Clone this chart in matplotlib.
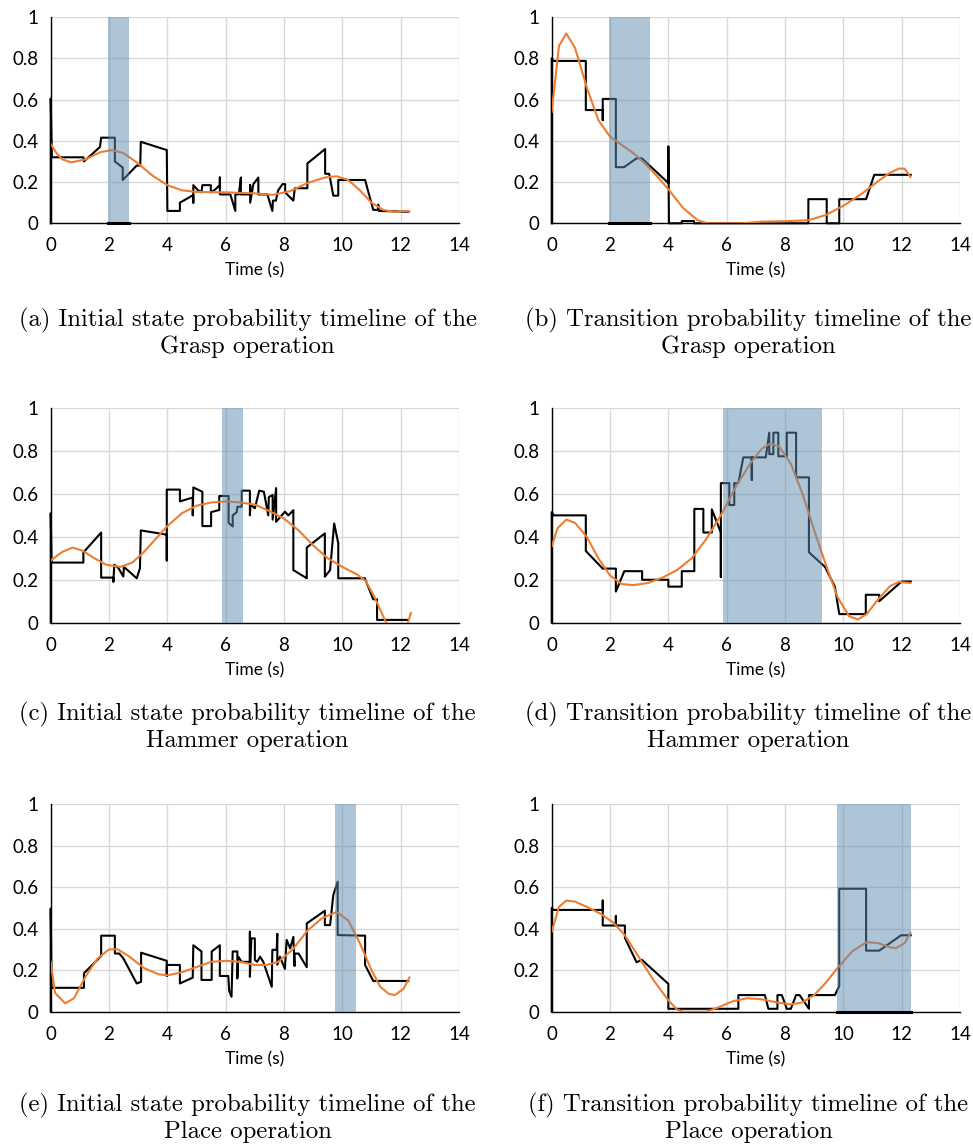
import matplotlib
matplotlib.use("Agg")
import matplotlib.pyplot as plt

# ---------------- data (time s, probability) ----------------
a_obs = [(0,0),(0,0.605),(0.04,0.32),(1.12,0.32),(1.14,0.30),(1.69,0.37),(1.73,0.415),(2.2,0.415),(2.2,0.30),
         (2.47,0.27),(2.47,0.21),(2.95,0.28),(3.07,0.28),(3.09,0.395),(3.98,0.355),(4.0,0.06),(4.43,0.06),
         (4.43,0.10),(4.89,0.137),(4.89,0.10),(4.89,0.185),(5.05,0.16),(5.17,0.15),(5.2,0.185),(5.49,0.185),
         (5.49,0.15),(5.65,0.165),(5.80,0.185),(5.80,0.222),(5.80,0.14),(6.16,0.14),(6.33,0.06),(6.33,0.14),
         (6.45,0.14),(6.52,0.222),(6.52,0.14),(6.84,0.14),(6.84,0.185),(6.84,0.10),(6.95,0.19),(7.12,0.222),
         (7.12,0.14),(7.43,0.14),(7.60,0.06),(7.62,0.11),(7.72,0.11),(7.8,0.16),(7.95,0.19),(8.04,0.19),
         (8.04,0.15),(8.32,0.11),(8.37,0.17),(8.80,0.17),(8.80,0.29),(9.41,0.36),(9.41,0.24),(9.55,0.24),
         (9.69,0.134),(9.86,0.134),(9.86,0.21),(10.78,0.21),(11.06,0.065),(11.23,0.065),(11.23,0.09),
         (11.25,0.06),(12.26,0.056)]
a_fit = [(0,0.385),(0.2,0.34),(0.4,0.31),(0.7,0.295),(1.2,0.31),(1.7,0.345),(2.1,0.355),(2.5,0.34),(3.0,0.29),
         (3.5,0.23),(4.0,0.185),(4.5,0.16),(5,0.152),(6,0.15),(7,0.145),(7.6,0.138),(8.2,0.155),(8.8,0.195),
         (9.4,0.222),(9.8,0.228),(10.2,0.21),(10.6,0.16),(11.0,0.1),(11.4,0.065),(11.8,0.055),(12.1,0.06),(12.3,0.058)]
a_span = (1.98, 2.69)

b_obs = [(0,0),(0,0.80),(0.06,0.787),(1.17,0.787),(1.17,0.549),(1.75,0.549),(1.75,0.50),(1.75,0.603),(2.2,0.603),
         (2.2,0.272),(2.48,0.272),(2.91,0.315),(3.09,0.315),(4.0,0.195),(4.0,0.373),(4.02,0.0),(4.46,0.0),
         (4.46,0.011),(4.88,0.011),(4.88,0.0),(8.8,0.0),(8.8,0.117),(9.43,0.117),(9.43,0.0),(9.86,0.0),
         (9.86,0.117),(10.78,0.117),(11.06,0.235),(12.31,0.235)]
b_fit = [(0,0.54),(0.25,0.86),(0.5,0.92),(0.8,0.85),(1.2,0.66),(1.6,0.50),(2.0,0.42),(2.4,0.38),(2.8,0.34),
         (3.2,0.29),(3.6,0.23),(4.0,0.165),(4.5,0.075),(5.0,0.015),(5.35,0.0),(6.5,0.0),(7.2,0.008),(8.0,0.01),
         (8.8,0.015),(9.4,0.04),(10.0,0.085),(10.6,0.14),(11.2,0.205),(11.6,0.245),(11.9,0.265),(12.1,0.265),(12.3,0.225)]
b_span = (1.98, 3.37)

c_obs = [(0,0),(0,0.51),(0.03,0.28),(1.12,0.28),(1.12,0.327),(1.73,0.42),(1.73,0.21),(2.15,0.21),(2.15,0.19),
         (2.18,0.27),(2.32,0.255),(2.49,0.215),(2.51,0.26),(2.95,0.207),(3.06,0.253),(3.09,0.43),(3.98,0.41),
         (3.98,0.29),(3.98,0.62),(4.43,0.62),(4.43,0.565),(4.87,0.583),(4.87,0.5),(4.89,0.63),(5.2,0.61),
         (5.2,0.45),(5.5,0.45),(5.5,0.515),(5.78,0.525),(5.78,0.59),(6.1,0.59),(6.1,0.465),(6.24,0.448),
         (6.24,0.50),(6.38,0.515),(6.4,0.54),(6.55,0.54),(6.55,0.615),(6.83,0.615),(6.83,0.50),(6.85,0.55),
         (7.0,0.533),(7.15,0.615),(7.31,0.61),(7.46,0.5),(7.48,0.585),(7.61,0.595),(7.61,0.48),(7.73,0.627),
         (7.73,0.47),(8.03,0.517),(8.15,0.50),(8.32,0.524),(8.32,0.245),(8.78,0.207),(8.78,0.35),(9.40,0.416),
         (9.40,0.214),(9.58,0.245),(9.72,0.462),(9.86,0.37),(9.86,0.207),(10.77,0.207),(11.06,0.109),
         (11.19,0.109),(11.19,0.013),(12.26,0.013)]
c_fit = [(0,0.29),(0.4,0.33),(0.75,0.35),(1.1,0.335),(1.5,0.30),(1.9,0.27),(2.4,0.26),(2.8,0.28),(3.2,0.33),
         (3.6,0.39),(4.0,0.45),(4.5,0.51),(5.0,0.545),(5.5,0.56),(6.0,0.565),(6.5,0.56),(7.0,0.55),(7.5,0.52),
         (8.0,0.485),(8.5,0.43),(9.0,0.36),(9.5,0.30),(10.0,0.26),(10.5,0.225),(10.8,0.195),(11.1,0.12),
         (11.5,0.0),(11.9,-0.06),(12.1,-0.05),(12.25,0.0),(12.35,0.045)]
c_span = (5.89, 6.58)

d_obs = [(0,0),(0,0.515),(0.06,0.50),(1.17,0.50),(1.17,0.334),(1.75,0.252),(2.2,0.252),(2.2,0.145),(2.49,0.24),
         (3.1,0.24),(3.1,0.2),(4.0,0.2),(4.0,0.168),(4.46,0.168),(4.46,0.24),(4.89,0.24),(4.89,0.53),(5.2,0.53),
         (5.2,0.42),(5.49,0.42),(5.49,0.528),(5.8,0.42),(5.8,0.213),(5.8,0.65),(6.09,0.65),(6.09,0.548),
         (6.26,0.548),(6.26,0.65),(6.4,0.65),(6.57,0.77),(6.86,0.77),(6.86,0.665),(6.86,0.77),(7.34,0.77),
         (7.46,0.885),(7.46,0.785),(7.6,0.785),(7.6,0.885),(7.77,0.885),(7.77,0.775),(8.06,0.775),(8.06,0.885),
         (8.38,0.885),(8.38,0.677),(8.82,0.677),(8.82,0.328),(9.37,0.26),(9.71,0.168),(9.86,0.04),(10.77,0.04),
         (10.77,0.13),(11.23,0.13),(11.23,0.1),(12.0,0.192),(12.31,0.192)]
d_fit = [(0,0.355),(0.2,0.44),(0.5,0.48),(0.8,0.465),(1.2,0.40),(1.6,0.30),(2.0,0.22),(2.4,0.18),(2.8,0.175),
         (3.3,0.185),(3.8,0.21),(4.3,0.245),(4.8,0.30),(5.3,0.39),(5.8,0.50),(6.3,0.63),(6.8,0.74),(7.2,0.81),
         (7.5,0.835),(7.8,0.82),(8.2,0.74),(8.6,0.60),(9.0,0.43),(9.4,0.27),(9.8,0.12),(10.2,0.03),(10.5,0.015),
         (10.8,0.04),(11.2,0.11),(11.6,0.17),(11.9,0.19),(12.3,0.185)]
d_span = (5.89, 9.26)

e_obs = [(0,0),(0,0.497),(0.03,0.115),(1.14,0.115),(1.14,0.185),(1.73,0.268),(1.73,0.366),(2.2,0.366),(2.2,0.28),
         (2.35,0.28),(2.49,0.257),(2.95,0.136),(3.1,0.144),(3.1,0.284),(3.98,0.245),(3.98,0.172),(3.98,0.225),
         (4.43,0.225),(4.43,0.136),(4.87,0.164),(4.89,0.32),(5.17,0.29),(5.17,0.153),(5.52,0.153),(5.52,0.29),
         (5.80,0.32),(5.80,0.172),(6.09,0.172),(6.12,0.10),(6.2,0.072),(6.24,0.29),(6.4,0.29),(6.4,0.16),
         (6.43,0.265),(6.55,0.24),(6.83,0.24),(6.83,0.385),(6.83,0.168),(6.88,0.353),(7.0,0.353),(7.0,0.25),
         (7.08,0.24),(7.18,0.265),(7.29,0.24),(7.58,0.12),(7.60,0.298),(7.75,0.298),(7.77,0.375),(7.77,0.226),
         (7.86,0.265),(8.03,0.206),(8.09,0.346),(8.21,0.305),(8.32,0.36),(8.36,0.22),(8.36,0.28),(8.5,0.28),
         (8.78,0.214),(8.78,0.425),(9.40,0.486),(9.40,0.417),(9.58,0.417),(9.69,0.562),(9.84,0.626),
         (9.84,0.369),(10.78,0.366),(10.78,0.225),(11.06,0.148),(12.26,0.148)]
e_fit = [(0,0.24),(0.15,0.09),(0.5,0.04),(0.8,0.065),(1.2,0.17),(1.6,0.255),(2.0,0.30),(2.3,0.30),(2.7,0.265),
         (3.2,0.21),(3.7,0.18),(4.0,0.175),(4.5,0.19),(5.0,0.215),(5.5,0.24),(6.0,0.245),(6.5,0.24),(7.0,0.225),
         (7.4,0.225),(7.8,0.24),(8.3,0.30),(8.8,0.39),(9.3,0.45),(9.8,0.48),(10.2,0.44),(10.6,0.33),(11.0,0.20),
         (11.3,0.12),(11.6,0.085),(11.8,0.08),(12.1,0.11),(12.3,0.165)]
e_span = (9.75, 10.46)

f_obs = [(0,0),(0,0.50),(0.06,0.49),(1.75,0.49),(1.75,0.535),(1.75,0.415),(2.2,0.415),(2.2,0.46),(2.2,0.415),
         (2.51,0.415),(2.51,0.355),(2.91,0.238),(3.09,0.25),(4.0,0.134),(4.0,0.014),(6.4,0.014),(6.4,0.08),
         (7.31,0.08),(7.43,0.014),(7.74,0.014),(7.74,0.08),(7.89,0.08),(8.06,0.014),(8.2,0.014),(8.38,0.08),
         (8.5,0.08),(8.82,0.014),(8.82,0.08),(9.71,0.08),(9.86,0.123),(9.86,0.592),(10.78,0.592),(10.78,0.294),
         (11.23,0.294),(11.98,0.368),(12.31,0.368)]
f_fit = [(0,0.385),(0.25,0.505),(0.5,0.535),(0.8,0.53),(1.2,0.505),(1.7,0.47),(2.1,0.43),(2.5,0.37),(3.0,0.26),
         (3.5,0.15),(4.0,0.055),(4.3,0.01),(4.5,0.0),(5.3,0.0),(5.7,0.02),(6.2,0.05),(6.7,0.065),(7.2,0.06),
         (7.7,0.045),(8.2,0.035),(8.6,0.045),(9.0,0.08),(9.4,0.14),(9.8,0.21),(10.3,0.29),(10.8,0.335),
         (11.2,0.33),(11.6,0.31),(11.8,0.305),(12.1,0.33),(12.3,0.38)]
f_span = (9.77, 12.31)

captions = [
    ("(a) Initial state probability timeline of the", "Grasp operation"),
    ("(b) Transition probability timeline of the", "Grasp operation"),
    ("(c) Initial state probability timeline of the", "Hammer operation"),
    ("(d) Transition probability timeline of the", "Hammer operation"),
    ("(e) Initial state probability timeline of the", "Place operation"),
    ("(f) Transition probability timeline of the", "Place operation"),
]
x_ticks = [0, 2, 4, 6, 8, 10, 12, 14]
y_ticks = [0, 0.2, 0.4, 0.6, 0.8, 1]
y_labels = ["0", "0.2", "0.4", "0.6", "0.8", "1"]

panels = [
    (a_obs, a_fit, a_span, True),
    (b_obs, b_fit, b_span, True),
    (c_obs, c_fit, c_span, False),
    (d_obs, d_fit, d_span, False),
    (e_obs, e_fit, e_span, False),
    (f_obs, f_fit, f_span, True),
]

# ---------------- layout ----------------
W, H = 973, 1144
fig = plt.figure(figsize=(W / 100, H / 100), dpi=100)
col_left = [50.7, 551.7]
ax_w = 408.3
rows = [(17.0, 223.3), (408.0, 622.7), (804.0, 1011.7)]
cap_y = [(320, 347), (714, 741), (1105, 1132)]
cap_x = [247.5, 748.5]

tick_font = "Lato"
for i, (obs, fit, span, span_base) in enumerate(panels):
    r, c = divmod(i, 2)
    top, bot = rows[r]
    ax = fig.add_axes([col_left[c] / W, 1 - bot / H, ax_w / W, (bot - top) / H])
    ax.set_xlim(0, 14)
    ax.set_ylim(0, 1)
    ax.set_xticks(x_ticks)
    ax.set_yticks(y_ticks)
    ax.set_yticklabels(y_labels)
    ax.grid(True, color="#d9d9d9", linewidth=1.0)
    ax.set_axisbelow(True)
    for s in ["top", "right"]:
        ax.spines[s].set_visible(False)
    ax.spines["left"].set_color("#000000")
    ax.spines["bottom"].set_color("#000000")
    ax.spines["left"].set_linewidth(1.0)
    ax.spines["bottom"].set_linewidth(1.0)
    ax.tick_params(axis="x", length=0, labelsize=13.5, pad=10)
    ax.tick_params(axis="y", length=0, labelsize=13.5, pad=9)
    for lab in ax.get_xticklabels() + ax.get_yticklabels():
        lab.set_fontfamily(tick_font)
    ax.set_xlabel("Time (s)", fontsize=12.5, fontfamily=tick_font, labelpad=6)

    ot = [p[0] for p in obs]
    ov = [p[1] for p in obs]
    ft = [p[0] for p in fit]
    fv = [p[1] for p in fit]
    ax.plot(ot, ov, color="black", linewidth=1.5, zorder=3, clip_on=False)
    ax.plot(ft, fv, color="#ed7d31", linewidth=1.5, zorder=4)
    ax.axvspan(span[0], span[1], color="#5f8bb1", alpha=0.5, linewidth=0, zorder=5)
    if span_base:
        ax.plot([span[0], span[1]], [0, 0], color="black", linewidth=2.2, zorder=6, clip_on=False)

    l1, l2 = captions[i]
    fig.text(cap_x[c] / W, 1 - cap_y[r][0] / H, l1, ha="center", va="center",
             fontsize=17.8, fontfamily="cmr10")
    fig.text(cap_x[c] / W, 1 - cap_y[r][1] / H, l2, ha="center", va="center",
             fontsize=17.8, fontfamily="cmr10")

fig.savefig("out.png", dpi=100)
